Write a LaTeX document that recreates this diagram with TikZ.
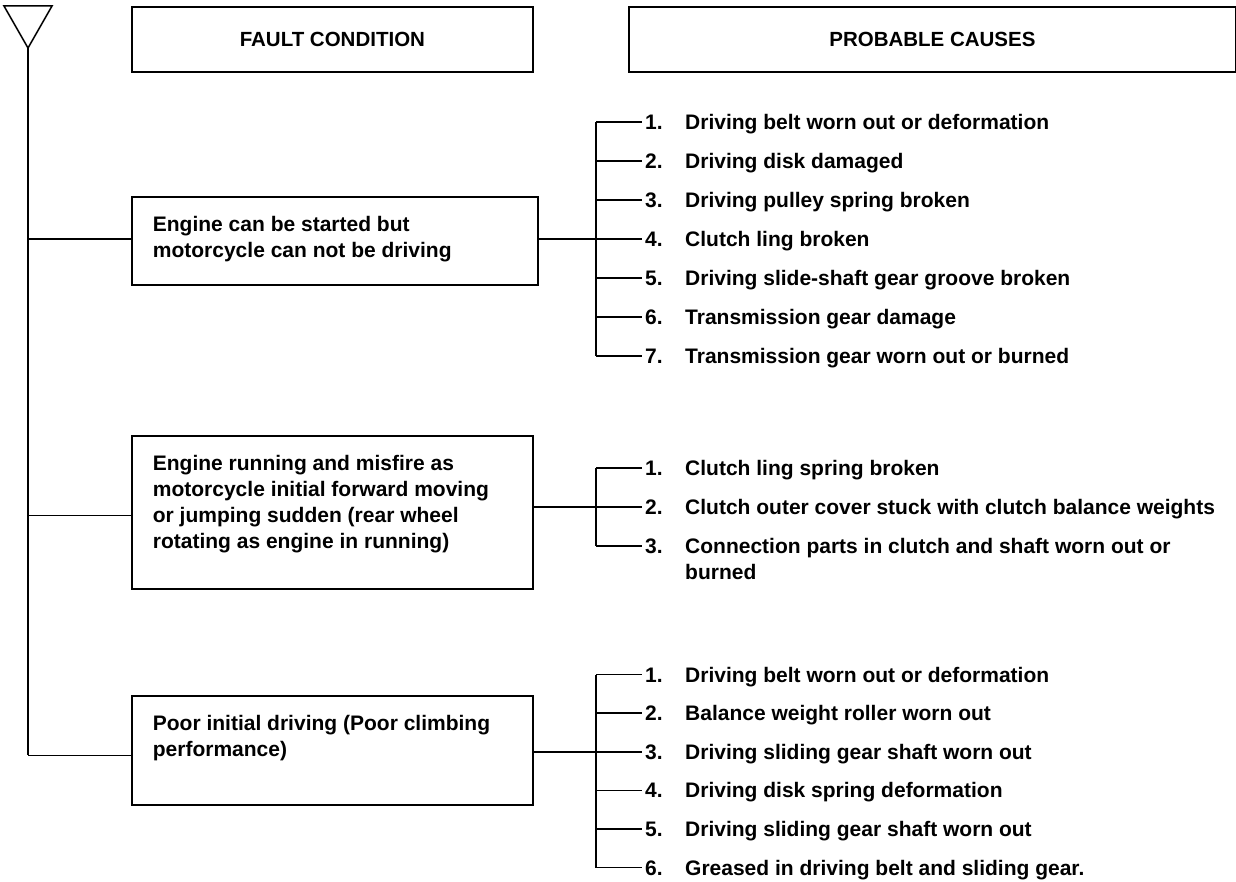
\documentclass[tikz,border=0pt]{standalone}
\usepackage{fontspec}
\setmainfont{Liberation Sans}
\usetikzlibrary{positioning}

\newcommand{\condbox}[3]{\parbox[t][#2][t]{#1}{\raggedright\vspace*{19pt}#3}}

\begin{document}
\begin{tikzpicture}[
    x=1pt, y=-1pt,
    every node/.style={font=\bfseries\fontsize{21}{26}\selectfont},
    head/.style={draw, line width=1.8pt, minimum height=65pt, anchor=north west,
                 font=\bfseries\fontsize{20.5}{24}\selectfont},
    fault/.style={draw, line width=1.8pt, anchor=north west, inner xsep=21pt, inner ysep=0pt},
    item/.style={anchor=west, inner xsep=3pt, inner ysep=0pt,
                 text height=15pt, text depth=0pt},
    link/.style={line width=1.5pt}
]
  \useasboundingbox (0,0) rectangle (1236,882);

  % headings
  \node[head, minimum width=401pt] (hfault) at (131,6) {FAULT CONDITION};
  \node[head, minimum width=607pt] (hcause) at (628,6) {PROBABLE CAUSES};

  % start symbol and trunk
  \coordinate (tl) at (4,6);
  \coordinate (tr) at (52,6);
  \coordinate (apex) at (28,48);
  \draw[link] (tl) -- (tr) -- (apex) -- cycle;

  % fault conditions
  \node[fault] (f1) at (131,196) {\condbox{364pt}{88pt}{Engine can be started but\\motorcycle can not be driving}};
  \node[fault] (f2) at (131,435) {\condbox{359pt}{153pt}{Engine running and misfire as\\motorcycle initial forward moving\\or jumping sudden (rear wheel\\rotating as engine in running)}};
  \node[fault] (f3) at (131,695) {\condbox{359pt}{109pt}{Poor initial driving (Poor climbing\\performance)}};

  % probable causes
  \coordinate (spine1) at (596,122);
  \coordinate (spine2) at (596,468);
  \coordinate (spine3) at (596,675);
  \foreach \txt [count=\i] in {Driving belt worn out or deformation, Driving disk damaged,
      Driving pulley spring broken, Clutch ling broken, Driving slide-shaft gear groove broken,
      Transmission gear damage, Transmission gear worn out or burned}
    \node[item] (g1i\i) at (642,83+39*\i) {\makebox[40pt][l]{\i.}\txt};
  \foreach \txt [count=\i] in {Clutch ling spring broken,
      Clutch outer cover stuck with clutch balance weights,
      {\parbox[t]{540pt}{\raggedright Connection parts in clutch and shaft worn out or\\burned}}}
    \node[item] (g2i\i) at (642,429+39*\i) {\makebox[40pt][l]{\i.}\txt};
  \foreach \txt [count=\i] in {Driving belt worn out or deformation, Balance weight roller worn out,
      Driving sliding gear shaft worn out, Driving disk spring deformation,
      Driving sliding gear shaft worn out, Greased in driving belt and sliding gear.}
    \node[item] (g3i\i) at (642,636+38.6*\i) {\makebox[40pt][l]{\i.}\txt};

  % connectors
  \draw[link] (apex) -- ([yshift=-5pt]f3.west -| apex);
  \foreach \f/\dy in {1/2,2/-3,3/-5}
    \draw[link] ([yshift=\dy pt]f\f.west -| apex) -- ([yshift=\dy pt]f\f.west);

  \draw[link] (g1i1.west -| spine1) -- (g1i7.west -| spine1);
  \foreach \i in {1,...,7}
    \draw[link] (g1i\i.west -| spine1) -- (g1i\i.west);
  \draw[link] (f1.east |- g1i4.west) -- (g1i4.west -| spine1);

  \draw[link] (g2i1.west -| spine2) -- (g2i3.west -| spine2);
  \foreach \i in {1,2,3}
    \draw[link] (g2i\i.west -| spine2) -- (g2i\i.west);
  \draw[link] (f2.east |- g2i2.west) -- (g2i2.west -| spine2);

  \draw[link] (g3i1.west -| spine3) -- (g3i6.west -| spine3);
  \foreach \i in {1,...,6}
    \draw[link] (g3i\i.west -| spine3) -- (g3i\i.west);
  \draw[link] (f3.east |- g3i3.west) -- (g3i3.west -| spine3);
\end{tikzpicture}
\end{document}
